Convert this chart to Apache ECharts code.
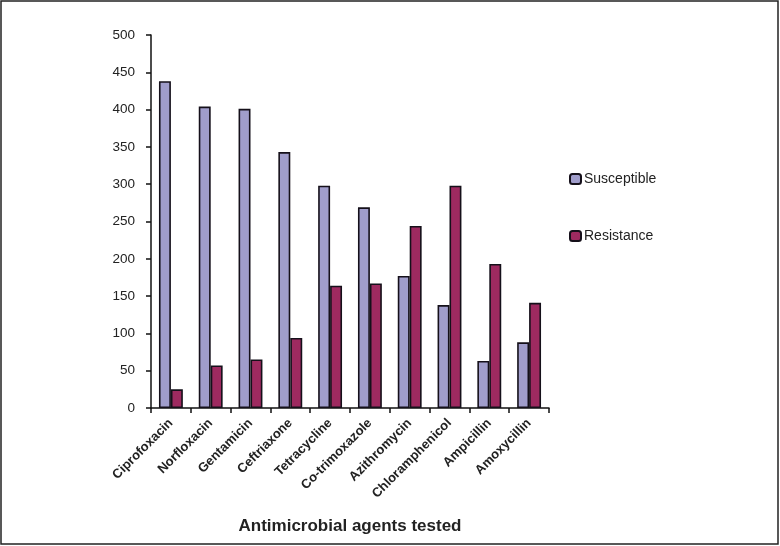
<!DOCTYPE html>
<html><head><meta charset="utf-8">
<script src="https://cdn.jsdelivr.net/npm/echarts@6/dist/echarts.min.js"></script>
<style>html,body{margin:0;padding:0;background:#fff}#c{width:780px;height:546px}</style>
</head><body><div id="c"></div>
<script>
const categories = ['Ciprofoxacin','Norfloxacin','Gentamicin','Ceftriaxone','Tetracycline','Co-trimoxazole','Azithromycin','Chloramphenicol','Ampicillin','Amoxycillin'];
const susceptible = [438, 404, 401, 343, 298, 269, 177, 138, 63, 88];
const resistance = [25, 57, 65, 94, 164, 167, 244, 298, 193, 141];
const yTicks = [0, 50, 100, 150, 200, 250, 300, 350, 400, 450, 500];
const xTitle = 'Antimicrobial agents tested';

const chart = echarts.init(document.getElementById('c'), null, {renderer: 'canvas'});
const font = '"Liberation Sans", Arial, sans-serif';
chart.setOption({
  animation: false,
  backgroundColor: '#fff',
  graphic: [{type: 'rect', shape: {x: 1, y: 1, width: 777, height: 543}, style: {fill: 'none', stroke: '#222', lineWidth: 1.5}, z: -1}],
  grid: {left: 151, right: 231, top: 35, bottom: 138, containLabel: false},
  legend: {
    orient: 'vertical', left: 569, top: 172, padding: 0, itemGap: 43, itemWidth: 11, itemHeight: 10,
    textStyle: {fontFamily: font, fontSize: 14, color: '#222', padding: [0, 0, 0, -2]},
    data: ['Susceptible', 'Resistance']
  },
  xAxis: {
    type: 'category', data: categories,
    axisLine: {lineStyle: {color: '#111', width: 1.5}},
    axisTick: {show: true, length: 5, lineStyle: {color: '#111', width: 1.5}},
    axisLabel: {rotate: 45, interval: 0, margin: 13, fontFamily: font, fontSize: 13, fontWeight: 'bold', color: '#222'},
    name: xTitle, nameLocation: 'middle', nameGap: 110,
    nameTextStyle: {fontFamily: font, fontSize: 17, fontWeight: 'bold', color: '#222'}
  },
  yAxis: {
    type: 'value', min: yTicks[0], max: yTicks[yTicks.length - 1], interval: yTicks[1] - yTicks[0],
    axisLine: {show: true, lineStyle: {color: '#111', width: 1.5}},
    axisTick: {show: true, length: 5, lineStyle: {color: '#111', width: 1.5}},
    splitLine: {show: false},
    axisLabel: {margin: 16, fontFamily: font, fontSize: 13.5, color: '#222'}
  },
  series: [
    {name: 'Susceptible', type: 'bar', data: susceptible, barGap: '0%', barCategoryGap: '40%',
     itemStyle: {color: '#a09dcb', borderColor: '#15101a', borderWidth: 1.6}},
    {name: 'Resistance', type: 'bar', data: resistance,
     itemStyle: {color: '#9e2a60', borderColor: '#15101a', borderWidth: 1.6}}
  ]
});
</script></body></html>
